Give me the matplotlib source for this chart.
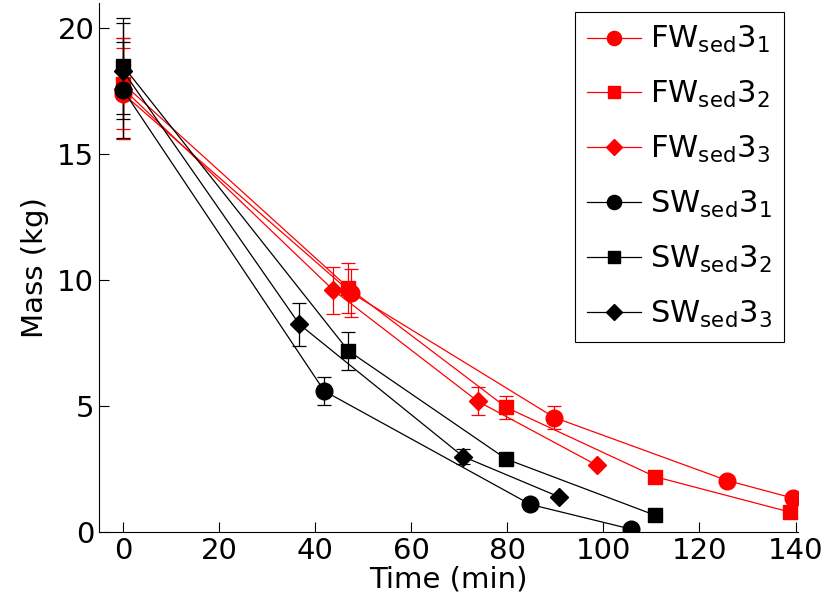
import numpy as np
import matplotlib
matplotlib.use('Agg')
import matplotlib.pyplot as plt
from matplotlib.lines import Line2D

plt.rcParams['font.family'] = 'DejaVu Sans'
plt.rcParams['mathtext.default'] = 'regular'

# time (min), mass (kg), error (kg)
t_fw1 = [0, 47.5, 89.8, 125.8, 139.5]
m_fw1 = [17.4, 9.5, 4.55, 2.05, 1.35]
e_fw1 = [1.8, 0.95, 0.47, 0.0, 0.0]

t_fw2 = [0, 46.9, 79.8, 110.8, 138.8]
m_fw2 = [17.8, 9.7, 4.95, 2.2, 0.8]
e_fw2 = [1.8, 1.0, 0.47, 0.0, 0.0]

t_fw3 = [0, 43.8, 73.8, 98.7]
m_fw3 = [17.6, 9.6, 5.2, 2.65]
e_fw3 = [2.0, 0.93, 0.55, 0.0]

t_sw1 = [0, 41.9, 84.8, 105.8]
m_sw1 = [17.55, 5.6, 1.1, 0.12]
e_sw1 = [1.9, 0.57, 0.0, 0.0]

t_sw2 = [0, 46.9, 79.8, 110.8]
m_sw2 = [18.5, 7.2, 2.9, 0.67]
e_sw2 = [1.9, 0.75, 0.15, 0.0]

t_sw3 = [0, 36.7, 70.8, 90.8]
m_sw3 = [18.3, 8.25, 3.0, 1.4]
e_sw3 = [1.9, 0.85, 0.3, 0.0]

series = [
    (t_fw1, m_fw1, e_fw1, 'red', 'o', 12, r'FW$_{sed}$3$_1$'),
    (t_fw2, m_fw2, e_fw2, 'red', 's', 10, r'FW$_{sed}$3$_2$'),
    (t_fw3, m_fw3, e_fw3, 'red', 'D', 9, r'FW$_{sed}$3$_3$'),
    (t_sw1, m_sw1, e_sw1, 'black', 'o', 12, r'SW$_{sed}$3$_1$'),
    (t_sw2, m_sw2, e_sw2, 'black', 's', 10, r'SW$_{sed}$3$_2$'),
    (t_sw3, m_sw3, e_sw3, 'black', 'D', 9, r'SW$_{sed}$3$_3$'),
]

fig = plt.figure(figsize=(8.26, 6.11), dpi=100)
ax = fig.add_axes([0.12, 0.129, 0.846, 0.866])

handles = []
labels = []
for t, m, e, c, mk, ms, lab in series:
    ax.errorbar(t, m, yerr=e, color=c, marker=mk, markersize=ms, linewidth=0.9,
                elinewidth=0.9, capsize=5, capthick=0.9)
    handles.append(Line2D([], [], color=c, marker=mk, markersize=ms * 0.85,
                          linewidth=0.9))
    labels.append(lab)

ax.set_xlim(-5, 140.5)
ax.set_ylim(0, 21)
ax.set_xticks(np.arange(0, 141, 20))
ax.set_yticks([0, 5, 10, 15, 20])
ax.spines['top'].set_visible(False)
ax.spines['right'].set_visible(False)
ax.tick_params(direction='in', labelsize=21, length=7, width=0.8)
ax.set_xlabel('Time (min)', fontsize=21, labelpad=0)
ax.set_ylabel('Mass (kg)', fontsize=21, labelpad=6)

leg = ax.legend(handles, labels, loc='upper right',
                bbox_to_anchor=(784 / 826, 1 - 12 / 611),
                bbox_transform=fig.transFigure, fontsize=22, frameon=True,
                fancybox=False, edgecolor='black', framealpha=1,
                handlelength=1.75, labelspacing=0.78, borderaxespad=0,
                handletextpad=0.3, borderpad=0.4)
leg.get_frame().set_linewidth(0.8)

fig.savefig('out.png', dpi=100)
